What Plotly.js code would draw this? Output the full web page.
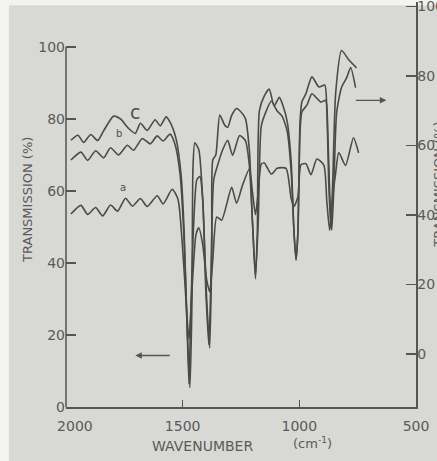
<!DOCTYPE html>
<html>
<head>
<meta charset="utf-8">
<script src="https://cdn.plot.ly/plotly-3.0.1.min.js"></script>
<style>
html,body{margin:0;padding:0;background:#d8d8d5;}
#chart{width:437px;height:461px;}
</style>
</head>
<body>
<div id="chart"></div>
<script>
// Wavenumber (cm^-1) and transmission (%)
var cWavenumber = [1979,1949,1924,1894,1864,1839,1796,1766,1732,1703,1681,1652,1618,1596,1571,1554,1528,1507,1494,1482,1469,1460,1456,1448,1431,1414,1397,1384,1375,1371,1358,1341,1320,1307,1290,1269,1248,1231,1214,1201,1188,1180,1171,1150,1129,1108,1086,1069,1052,1035,1023,1014,1006,997,989,972,946,916,891,882,874,865,857,844,819,789,755];
var cTransmission = [74.1,75.5,73.5,75.7,74.0,76.7,80.8,80.0,77.4,76.0,78.8,76.8,79.8,78.1,80.6,79.1,74.4,64.6,49.3,24.3,5.4,29.9,66.0,73.4,71.5,57.6,29.8,16.4,43.6,68.6,70.0,81.1,78.3,77.7,81.0,82.9,81.8,80.1,71.2,51.7,35.6,48.9,82.3,86.4,88.3,83.6,86.0,83.5,79.3,68.2,48.7,40.9,48.7,79.3,84.8,87.0,91.7,88.9,89.4,81.9,62.4,49.6,62.4,87.4,99.0,96.5,94.2];

var bWavenumber = [1979,1936,1907,1873,1839,1809,1775,1737,1711,1673,1639,1609,1584,1554,1533,1511,1494,1482,1473,1465,1452,1439,1426,1414,1401,1388,1380,1367,1350,1329,1307,1286,1256,1231,1214,1201,1188,1176,1163,1142,1120,1095,1074,1052,1035,1023,1014,1006,997,989,967,946,908,887,878,870,861,853,840,819,797,780,759];
var bTransmission = [68.6,70.8,68.5,71.2,69.2,72.0,70.0,72.7,71.3,74.6,73.1,75.3,73.9,75.8,73.0,64.6,46.6,24.3,6.3,27.1,52.1,63.2,64.0,57.6,32.6,17.3,32.5,63.1,67.2,71.4,74.1,69.9,75.4,74.0,67.0,51.7,36.4,51.7,78.1,82.2,85.0,82.2,80.8,76.6,65.4,48.7,40.9,48.7,76.5,82.0,83.9,87.0,84.7,85.2,76.3,59.6,49.1,59.6,81.8,88.8,91.5,94.3,88.7];

var aWavenumber = [1979,1936,1907,1873,1843,1809,1779,1745,1715,1681,1652,1609,1584,1545,1520,1503,1486,1473,1460,1443,1431,1414,1397,1384,1371,1354,1333,1290,1269,1244,1214,1201,1188,1176,1163,1150,1120,1095,1057,1035,1023,1006,993,972,950,925,895,882,870,857,844,831,802,768,746];
var aTransmission = [53.6,56.0,53.5,55.4,53.1,56.1,54.4,58.0,55.8,57.9,55.7,58.7,56.4,60.5,57.7,46.6,29.9,18.8,32.6,47.9,49.8,45.1,35.3,32.0,40.8,52.8,51.9,61.0,56.6,61.5,66.2,59.8,53.4,59.8,67.5,67.8,64.7,66.3,66.3,57.9,55.7,58.4,67.3,67.6,64.5,68.9,67.2,56.9,49.1,58.3,65.2,70.7,67.1,74.8,70.6];

var xTickVals = [2000,1500,1000,500];
var xTickText = ['\u00a0\u00a0\u00a0\u00a02000','1500','1000','500'];
var yLeftTicks = [0,20,40,60,80,100];
var yRightTicks = [0,20,40,60,80,100];
var curveNames = ['a','b','c'];

var ink = '#4a4a4a';
var axisInk = '#555555';
var tickFont = {family:'DejaVu Sans', size:14, color:'#5a5a5a'};

function trace(x, y, name){
  return {x:x, y:y, name:name, type:'scatter', mode:'lines',
    line:{color:ink, width:1.6, shape:'spline', smoothing:0.6},
    hoverinfo:'skip', showlegend:false};
}

var data = [
  trace(aWavenumber, aTransmission, curveNames[0]),
  trace(bWavenumber, bTransmission, curveNames[1]),
  trace(cWavenumber, cTransmission, curveNames[2]),
  // empty trace so that the right-hand axis is registered and drawn
  {x:[], y:[], yaxis:'y2', type:'scatter', mode:'lines', hoverinfo:'skip', showlegend:false}
];

var layout = {
  width:437, height:461, autosize:false,
  margin:{l:66, r:21, t:2, b:54, pad:0},
  paper_bgcolor:'#d8d8d5', plot_bgcolor:'rgba(0,0,0,0)',
  showlegend:false,
  xaxis:{range:[2000,500], tickvals:xTickVals, ticktext:xTickText,
    ticks:'inside', ticklen:7, tickwidth:1.3, tickcolor:axisInk,
    showline:true, linecolor:axisInk, linewidth:1.5,
    showgrid:false, zeroline:false, tickfont:tickFont, ticklabelstandoff:6},
  yaxis:{range:[0,112.5], tickvals:yLeftTicks, ticks:'inside', ticklen:10, tickwidth:1.3,
    tickcolor:axisInk, showline:false, showgrid:false, zeroline:false, tickfont:tickFont},
  yaxis2:{overlaying:'y', side:'right', anchor:'x', range:[-15.25,101.3], autorange:false,
    tickmode:'array', tickvals:yRightTicks,
    ticks:'inside', ticklen:10, tickwidth:1.3, tickcolor:axisInk,
    showline:true, linecolor:axisInk, linewidth:1.5, showticklabels:true,
    ticklabelstandoff:-3, ticklabeloverflow:'allow',
    showgrid:false, zeroline:false, tickfont:tickFont},
  shapes:[
    {type:'rect', xref:'paper', yref:'paper', x0:-0.2, x1:1.1, y0:0.992, y1:1.02,
      fillcolor:'#f3f3f2', line:{width:0}, layer:'below'},
    {type:'rect', xref:'paper', yref:'paper', x0:-0.2, x1:-0.163, y0:-0.2, y1:1.02,
      fillcolor:'#f3f3f2', line:{width:0}, layer:'below'},
    {type:'line', xref:'paper', yref:'y', x0:0, x1:0, y0:0, y1:100,
      line:{color:axisInk, width:1.5}}
  ],
  annotations:[
    {text:'TRANSMISSION (%)', textangle:-90, xref:'paper', yref:'paper', x:-0.11, y:0.51,
      xanchor:'center', yanchor:'middle', showarrow:false,
      font:{family:'DejaVu Sans', size:13, color:'#5a5a5a'}},
    {text:'TRANSMISSION (%)', textangle:-90, xref:'paper', yref:'paper', x:1.064, y:0.55,
      xanchor:'center', yanchor:'middle', showarrow:false,
      font:{family:'DejaVu Sans', size:13, color:'#5a5a5a'}},
    {text:'WAVENUMBER', xref:'paper', yref:'paper', x:0.389, y:-0.096,
      xanchor:'center', yanchor:'middle', showarrow:false,
      font:{family:'DejaVu Sans', size:14, color:'#5a5a5a'}},
    {text:'(cm<sup>-1</sup>)', xref:'paper', yref:'paper', x:0.703, y:-0.089,
      xanchor:'center', yanchor:'middle', showarrow:false,
      font:{family:'DejaVu Sans', size:13, color:'#5a5a5a'}},
    {text:curveNames[2], x:1703, y:82, xref:'x', yref:'y', showarrow:false,
      font:{family:'DejaVu Sans', size:19, color:'#505050'}},
    {text:curveNames[1], x:1775, y:76, xref:'x', yref:'y', showarrow:false,
      font:{family:'DejaVu Sans', size:10, color:'#505050'}},
    {text:curveNames[0], x:1754, y:61, xref:'x', yref:'y', showarrow:false,
      font:{family:'DejaVu Sans', size:10, color:'#505050'}},
    {text:'', x:1703, y:14.3, xref:'x', yref:'y', ax:36, ay:0, showarrow:true,
      arrowhead:2, arrowsize:1, arrowwidth:1.3, arrowcolor:axisInk},
    {text:'', x:627, y:85.2, xref:'x', yref:'y', ax:-32, ay:0, showarrow:true,
      arrowhead:2, arrowsize:1, arrowwidth:1.3, arrowcolor:axisInk}
  ]
};

Plotly.newPlot('chart', data, layout, {staticPlot:true, displayModeBar:false});
</script>
</body>
</html>
